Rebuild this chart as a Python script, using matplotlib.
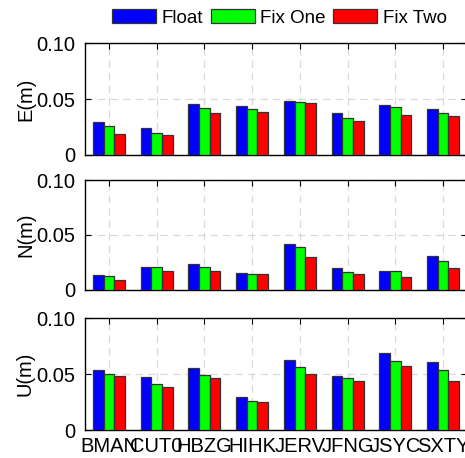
import matplotlib
matplotlib.use("Agg")
import matplotlib.pyplot as plt
import numpy as np

stations = ["BMAN", "CUT0", "HBZG", "HIHK", "JERV", "JFNG", "JSYC", "SXTY"]
series = ["Float", "Fix One", "Fix Two"]
colors = ["#0000ff", "#00ff00", "#ff0000"]

E_float = [0.0296, 0.0239, 0.0460, 0.0436, 0.0484, 0.0373, 0.0445, 0.0412]
E_fix1 = [0.0257, 0.0194, 0.0418, 0.0410, 0.0472, 0.0331, 0.0427, 0.0373]
E_fix2 = [0.0188, 0.0179, 0.0373, 0.0382, 0.0463, 0.0302, 0.0358, 0.0350]

N_float = [0.0130, 0.0209, 0.0233, 0.0155, 0.0412, 0.0197, 0.0167, 0.0309]
N_fix1 = [0.0121, 0.0209, 0.0206, 0.0145, 0.0388, 0.0164, 0.0167, 0.0264]
N_fix2 = [0.0088, 0.0167, 0.0167, 0.0139, 0.0297, 0.0139, 0.0118, 0.0194]

U_float = [0.0535, 0.0476, 0.0553, 0.0294, 0.0624, 0.0482, 0.0685, 0.0609]
U_fix1 = [0.0500, 0.0412, 0.0494, 0.0262, 0.0562, 0.0468, 0.0615, 0.0535]
U_fix2 = [0.0485, 0.0385, 0.0468, 0.0247, 0.0500, 0.0435, 0.0574, 0.0441]

panels = [("E(m)", [E_float, E_fix1, E_fix2]),
          ("N(m)", [N_float, N_fix1, N_fix2]),
          ("U(m)", [U_float, U_fix1, U_fix2])]

plt.rcParams['font.family'] = ['Liberation Sans', 'DejaVu Sans']
plt.rcParams['font.size'] = 14.5

fig = plt.figure(figsize=(4.65, 4.58), dpi=100)
W, H = 465.0, 458.0
left = 85 / W
width = (467 - 85) / W
boxes = [(43.5, 155.0), (180.0, 289.5), (318.0, 430.0)]

x = np.arange(1, len(stations) + 1)
bw = 0.224
handles = []
for i, (label, data) in enumerate(panels):
    top, bot = boxes[i]
    ax = fig.add_axes([left, (H - bot) / H, width, (bot - top) / H])
    for j, vals in enumerate(data):
        b = ax.bar(x + (j - 1) * bw, vals, width=bw, color=colors[j],
                   edgecolor="#333333", linewidth=0.9, label=series[j], zorder=3)
        if i == 0:
            handles.append(b)
    ax.set_xlim(0.5, len(stations) + 0.5)
    ax.set_ylim(0, 0.1)
    ax.set_yticks([0, 0.05, 0.10])
    ax.set_yticklabels(["0", "0.05", "0.10"])
    ax.set_xticks(x)
    if i == 2:
        ax.set_xticklabels(stations)
    else:
        ax.set_xticklabels([])
    ax.tick_params(direction="in", top=True, right=True, length=4, width=0.8,
                   pad=7, labelsize=14.5)
    ax.tick_params(axis="x", pad=5)
    ax.grid(True, linestyle=(0, (6, 4)), color="#d9d9d9", linewidth=0.9, zorder=0)
    ax.set_axisbelow(True)
    ax.set_ylabel(label, labelpad=1, fontsize=14.5)
    for s in ax.spines.values():
        s.set_linewidth(1.0)
        s.set_color("black")

fig.legend(handles, series, loc="center", bbox_to_anchor=(0.601, 0.961),
           ncol=3, frameon=False, handlelength=2.35, handleheight=0.75,
           handletextpad=0.3, columnspacing=0.4, borderaxespad=0,
           prop={'size': 13.5})

fig.savefig("out.png", dpi=100)
